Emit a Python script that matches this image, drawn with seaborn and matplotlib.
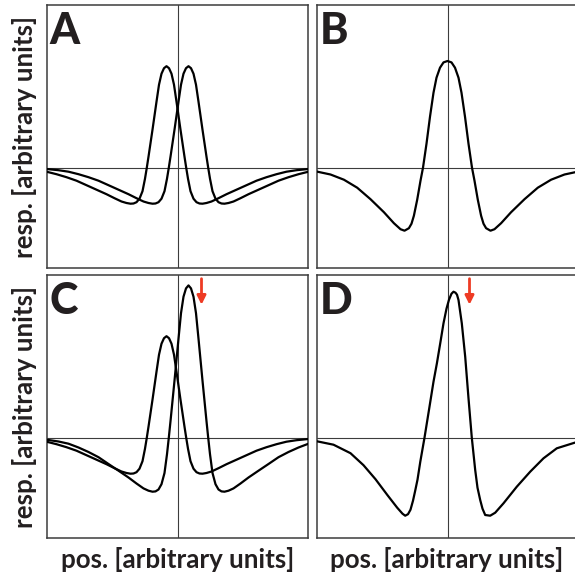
import matplotlib
matplotlib.use("Agg")
import matplotlib.pyplot as plt
import seaborn as sns
import pandas as pd

# ---------------- data (arbitrary units) ----------------
# Panel A / C : narrow centre-surround profiles
a_left_x = [-131, -121, -111, -101, -91, -81, -71, -63, -56, -51, -47, -44, -41, -38, -35, -32.5,
            -30.7, -29, -27, -25, -23, -21, -18.5, -16, -13.5, -11,
            -8.5, -6, -3.5, -1, 1, 3, 5, 7, 8.7, 10.5, 13, 16, 19, 22, 25, 29, 34, 41, 49, 59, 69,
            79, 89, 99, 109, 119, 131]
a_left_y = [-4, -6.5, -9.5, -13, -17.5, -22, -26.5, -30.5, -33.8, -35.3, -36, -35.8, -34.5, -31,
            -23.5, -11, 0, 11, 24.5, 38, 52, 66, 83, 94, 99.5, 101.5,
            99.5, 94, 83, 66, 52, 38, 24.5, 11, 0, -11, -23.5, -31, -34.5, -35.8, -36, -35.3,
            -33.8, -30.5, -26.5, -22, -17.5, -13, -9.5, -6.5, -4, -2.5, -1.3]

a_right_x = [-131, -119, -109, -99, -89, -79, -69, -59, -49, -41, -34, -29, -25, -22, -19, -16,
             -13, -10.5, -8.7, -7, -5, -3, -1, 1, 3.5, 6, 8.5, 11,
             13.5, 16, 18.5, 21, 23, 25, 27, 29, 30.7, 32.5, 35, 38, 41, 44, 47, 51, 56, 63, 71,
             81, 91, 101, 111, 121, 131]
a_right_y = [-1.3, -2.5, -4, -6.5, -9.5, -13, -17.5, -22, -26.5, -30.5, -33.8, -35.3, -36, -35.8,
             -34.5, -31, -23.5, -11, 0, 11, 24.5, 38, 52, 66, 83, 94, 99.5, 101.5,
             99.5, 94, 83, 66, 52, 38, 24.5, 11, 0, -11, -23.5, -31, -34.5, -35.8, -36, -35.3,
             -33.8, -30.5, -26.5, -22, -17.5, -13, -9.5, -6.5, -4]

c_left_x = a_left_x
c_left_y = a_left_y

c_right_x = a_right_x
c_right_y = [-2, -3.8, -6, -9.8, -14.3, -19.5, -26.3, -33, -39.8, -45.8, -50.7, -53, -54, -53.7,
             -51.8, -46.5, -35.3, -16.5, 0, 16.5, 36.8, 57, 78, 99, 124.5, 141, 149.3, 152.3,
             149.3, 141, 124.5, 99, 78, 57, 36.8, 16.5, 0, -16.5, -35.3, -46.5, -51.8, -53.7,
             -54, -53, -50.7, -45.8, -39.8, -33, -26.3, -19.5, -14.3, -9.8, -6]

# Panel B : wide symmetric profile
b_x = [-131, -117, -103.6, -90.3, -77, -63.6, -53.6, -47, -43, -38.6, -36, -33.6, -30.3, -27,
       -24.5, -21, -17.5, -14, -11, -7.5, -4, 0, 4, 7.5, 11, 14, 17.5, 21, 24.5, 27, 30.3, 33.6,
       36, 38.6, 43, 47, 53.6, 63.6, 77, 90.3, 103.6, 117, 131]
b_y = [-3.8, -6.8, -12, -20, -31.5, -44.5, -55.5, -61.5, -63, -60.5, -56, -48, -32, -13, 0, 24,
       51, 75, 90, 100, 105.3, 106.7, 105.3, 100, 90, 75, 51, 24, 0, -13, -32, -48, -56, -60.5,
       -63, -61.5, -55.5, -44.5, -31.5, -20, -12, -6.8, -3.8]

# Panel D : skewed, amplified profile
d_x = [-131, -114, -97, -84, -72, -60, -50.3, -45, -42.3, -39.5, -37, -34.5, -32.3, -30, -27.2,
       -23, -18, -14, -10.6, -7, -4, -1, 1.5, 4, 6, 8, 9.5, 11, 14.3, 17.7, 21, 24.3, 27.7, 30,
       32.7, 35, 37.7, 42.7, 47.7, 56, 69.3, 82.7, 96, 109.3, 131]
d_y = [-3.5, -7, -15.5, -27.5, -41.5, -57.5, -70, -76, -78, -76.5, -72, -63, -53, -42, -24, 0,
       31, 56, 74.4, 96, 114.4, 129, 138, 144, 146, 145, 143, 137.7, 114.4, 81, 39.4, 0, -32.3,
       -50, -62.3, -71, -77.3, -78, -75, -65.6, -49, -34, -20.6, -10.6, -3.8]

panel_letters = ["A", "B", "C", "D"]
y_label = "resp. [arbitrary units]"
x_label = "pos. [arbitrary units]"

# ---------------- figure ----------------
sns.set_style("white")
plt.rcParams["font.family"] = ["Lato", "DejaVu Sans"]

W, H = 575, 574
fig = plt.figure(figsize=(W / 100, H / 100), dpi=100)
fig.patch.set_facecolor("white")

TXT = "#231f20"
FRAME = "#3c3c3c"
RED = "#ee3b24"


def add_ax(left_px, top_px):
    return fig.add_axes([left_px / W, 1 - (top_px + 263) / H, 261 / W, 263 / H])


axA = add_ax(47, 5)
axB = add_ax(317, 5)
axC = add_ax(47, 275)
axD = add_ax(317, 275)

curves = {
    axA: [(a_left_x, a_left_y), (a_right_x, a_right_y)],
    axB: [(b_x, b_y)],
    axC: [(c_left_x, c_left_y), (c_right_x, c_right_y)],
    axD: [(d_x, d_y)],
}

for ax, letter in zip([axA, axB, axC, axD], panel_letters):
    ax.axhline(0, color=FRAME, lw=0.8, zorder=1)
    ax.axvline(0, color=FRAME, lw=0.8, zorder=1)
    for xs, ys in curves[ax]:
        df = pd.DataFrame({"pos": xs, "resp": ys})
        sns.lineplot(data=df, x="pos", y="resp", ax=ax, color="black", lw=1.6,
                     estimator=None, sort=False, zorder=3,
                     solid_joinstyle="round", solid_capstyle="round")
    ax.set_xlim(-130.5, 130.5)
    ax.set_ylim(-100.3, 162.7)
    ax.set_xticks([])
    ax.set_yticks([])
    ax.set_xlabel("")
    ax.set_ylabel("")
    for s in ax.spines.values():
        s.set_color(FRAME)
        s.set_linewidth(1.1)
    ax.text(0.01, 0.852, letter, transform=ax.transAxes, ha="left", va="baseline",
            fontsize=31, fontweight="black", color=TXT)

# red arrows in C and D
for ax, xa in [(axC, 24), (axD, 22)]:
    ax.annotate("", xy=(xa, 133), xytext=(xa, 159),
                arrowprops=dict(arrowstyle="-|>", color=RED, lw=2.0,
                                mutation_scale=13, shrinkA=0, shrinkB=0),
                zorder=5)

# axis labels as figure text
for cy in (136.5, 406.5):
    fig.text(25 / W, 1 - cy / H, y_label, rotation=90, ha="center", va="center",
             fontsize=18.6, fontweight="bold", color=TXT)
for cx in (177.5, 446.5):
    fig.text(cx / W, 1 - 559 / H, x_label, ha="center", va="center",
             fontsize=18.6, fontweight="bold", color=TXT)

fig.savefig("out.png", dpi=100, facecolor="white")
